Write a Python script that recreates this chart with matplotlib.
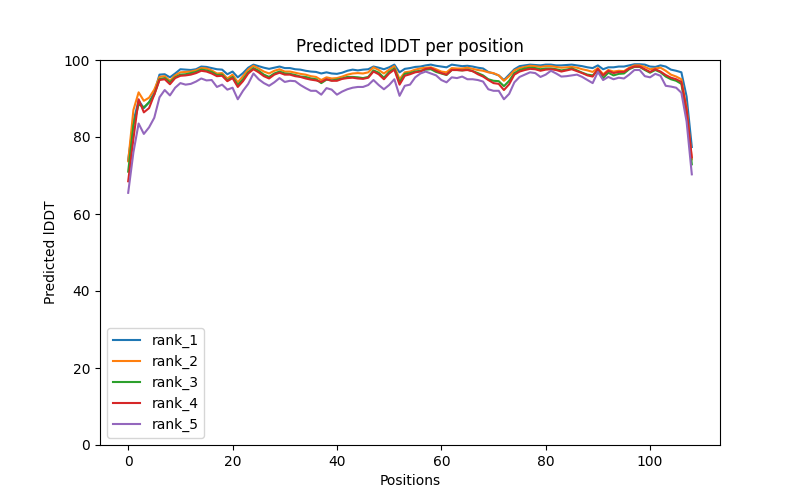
import matplotlib
matplotlib.use("Agg")
import matplotlib.pyplot as plt

# per-position predicted lDDT for each ranked model
rank_1 = [74, 84, 89.5, 87.5, 89, 91.5, 96.2, 96.3, 95.5, 96.5,
          97.6, 97.5, 97.4, 97.6, 98.3, 98.2, 97.9, 97.6, 97.5, 96.3,
          97.0, 95.5, 96.6, 98.0, 98.8, 98.4, 98.0, 97.7, 98.0, 98.3,
          97.9, 97.9, 97.6, 97.5, 97.2, 97.0, 96.9, 96.5, 96.8, 96.5,
          96.4, 96.7, 97.2, 97.5, 97.3, 97.5, 97.6, 98.3, 98.0, 97.6,
          98.1, 98.8, 96.8, 97.7, 97.9, 98.2, 98.3, 98.6, 98.8, 98.5,
          98.3, 98.1, 98.8, 98.6, 98.4, 98.5, 98.3, 98.0, 97.8, 96.9,
          96.5, 96.0, 94.8, 96.2, 97.6, 98.4, 98.6, 98.8, 98.7, 98.6,
          98.8, 98.8, 98.6, 98.6, 98.7, 98.8, 98.6, 98.4, 98.1, 97.9,
          98.6, 97.6, 98.1, 98.1, 98.3, 98.3, 98.6, 98.9, 98.9, 98.8,
          98.3, 98.2, 98.6, 98.3, 97.5, 97.2, 96.8, 90.5, 77.4]
rank_2 = [73.7, 87, 91.6, 89.4, 90.2, 92.3, 95.6, 95.8, 94.6, 96,
          96.8, 96.9, 97.0, 97.3, 97.9, 97.8, 97.3, 96.5, 96.6, 95.2,
          96.2, 94.2, 95.8, 97.5, 98.5, 97.8, 97.0, 96.5, 97.2, 97.6,
          97.0, 97.0, 96.7, 96.4, 96.2, 95.8, 95.6, 94.8, 95.5, 95.2,
          95.3, 95.7, 96.2, 96.5, 96.6, 96.5, 96.8, 98.1, 97.4, 96.5,
          97.5, 98.4, 95.0, 96.8, 97.0, 97.5, 97.8, 98.0, 98.1, 97.6,
          97.0, 96.8, 97.9, 97.8, 97.8, 98.0, 97.7, 97.4, 97.2, 96.8,
          96.6, 96.0, 94.6, 95.8, 97.3, 97.9, 98.2, 98.5, 98.4, 98.2,
          98.4, 98.4, 98.2, 98.0, 98.1, 98.2, 98.0, 97.6, 97.3, 96.9,
          97.9, 96.3, 97.4, 97.0, 97.2, 97.1, 98.0, 98.6, 98.6, 98.2,
          97.6, 97.8, 98.0, 97.2, 96.2, 95.7, 95.0, 87.5, 74.2]
rank_3 = [71, 83, 88.5, 87.7, 89, 91, 95, 95.3, 94.2, 95.5,
          96.2, 96.3, 96.6, 96.9, 97.5, 97.3, 96.9, 96.1, 96.2, 94.7,
          95.6, 93.5, 95.0, 96.8, 97.9, 97.2, 96.2, 95.6, 96.5, 97.0,
          96.5, 96.4, 96.1, 95.7, 95.6, 95.2, 95.0, 94.0, 94.9, 94.7,
          94.9, 95.2, 95.6, 95.6, 95.5, 95.3, 95.6, 97.3, 96.7, 95.4,
          96.9, 97.8, 94.2, 96.4, 96.6, 97.0, 97.2, 97.5, 97.6, 96.9,
          96.5, 96.1, 97.4, 97.4, 97.3, 97.5, 97.1, 96.6, 96.0, 95.0,
          94.6, 94.5, 93.2, 94.6, 96.6, 97.4, 97.8, 98.0, 97.9, 97.6,
          97.8, 97.8, 97.6, 97.3, 97.5, 97.8, 97.3, 96.7, 96.2, 96.0,
          97.2, 95.3, 96.7, 96.0, 96.4, 96.5, 97.6, 98.2, 98.2, 97.4,
          96.7, 97.4, 96.8, 95.7, 95.0, 94.6, 93.8, 86.0, 72.9]
rank_4 = [68.5, 79.5, 89.8, 86.4, 87.5, 91, 94.8, 95, 93.7, 95.3,
          95.9, 96.0, 96.2, 96.6, 97.2, 97.0, 96.5, 95.8, 95.9, 94.5,
          95.3, 93.0, 94.5, 96.5, 97.6, 96.8, 95.8, 95.2, 96.2, 96.7,
          96.2, 96.2, 95.8, 95.6, 95.2, 94.9, 94.7, 94.3, 95.0, 94.6,
          94.6, 95.1, 95.3, 95.4, 95.2, 95.1, 95.4, 97.0, 96.3, 95.0,
          96.5, 97.5, 93.6, 95.9, 96.3, 96.8, 97.0, 97.7, 97.9, 97.2,
          96.6, 96.2, 97.4, 97.4, 97.3, 97.4, 97.1, 96.3, 95.7, 94.8,
          94.0, 93.8, 92.2, 93.7, 96.2, 97.0, 97.4, 97.7, 97.6, 97.2,
          97.5, 97.6, 97.4, 97.0, 97.3, 97.6, 97.1, 96.6, 96.0, 95.7,
          97.7, 96.0, 97.2, 96.6, 96.9, 96.9, 97.8, 98.3, 98.3, 97.6,
          96.9, 97.6, 97.0, 96.1, 95.4, 95.0, 94.3, 87.0, 74.7]
rank_5 = [65.5, 76, 83.5, 80.8, 82.5, 85, 90.3, 92.2, 90.8, 92.8,
          94.0, 93.6, 93.8, 94.4, 95.2, 94.7, 94.8, 93.0, 93.6, 92.3,
          92.8, 89.8, 92.0, 93.8, 96.5, 95.0, 94.0, 93.3, 94.2, 95.3,
          94.3, 94.6, 94.5, 93.5, 92.7, 92.0, 92.0, 91.0, 92.7, 92.3,
          91.0, 91.8, 92.4, 92.8, 93.0, 93.0, 93.5, 94.8, 93.5, 92.4,
          93.5, 95.0, 90.7, 93.3, 93.6, 95.5, 96.5, 97.0, 96.5, 96.0,
          94.8, 94.2, 95.5, 95.3, 95.7, 95.0, 95.0, 94.8, 94.4, 92.4,
          92.0, 92.0, 89.8, 91.2, 94.2, 95.6, 96.2, 96.8, 96.6, 95.6,
          96.2, 97.2, 96.5, 95.7, 95.8, 96.0, 96.2, 95.6, 94.8, 94.0,
          96.9, 94.8, 95.6, 95.0, 95.4, 95.2, 96.2, 97.4, 97.4, 95.8,
          95.5, 96.4, 95.9, 93.3, 93.1, 92.8, 91.5, 84.0, 70.3]

ranks = [rank_1, rank_2, rank_3, rank_4, rank_5]
names = ["rank_1", "rank_2", "rank_3", "rank_4", "rank_5"]

fig = plt.figure(figsize=(8, 5), dpi=100)
for vals, name in zip(ranks, names):
    plt.plot(range(len(vals)), vals, label=name)
plt.title("Predicted lDDT per position")
plt.xlabel("Positions")
plt.ylabel("Predicted lDDT")
plt.ylim(0, 100)
plt.legend(loc="lower left")
plt.savefig("out.png")
plt.close()
